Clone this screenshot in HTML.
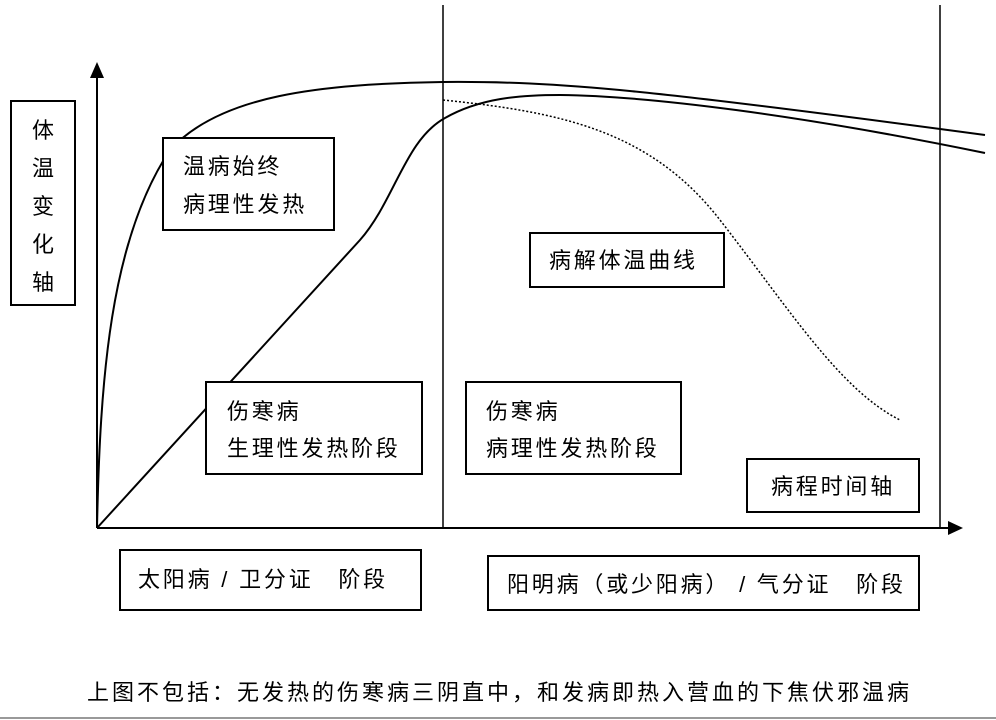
<!DOCTYPE html>
<html><head><meta charset="utf-8"><style>
body{margin:0;width:996px;height:720px;background:#fff;overflow:hidden;position:relative;font-family:"Liberation Sans","Noto Sans CJK SC",sans-serif;}
.b{position:absolute;border:2px solid #000;box-sizing:border-box;background:#fff;font-size:22px;letter-spacing:2.8px;line-height:37px;color:#000;white-space:nowrap;}
.t{position:absolute;font-size:22px;letter-spacing:3px;white-space:nowrap;}
svg{position:absolute;left:0;top:0}
</style></head><body>
<svg width="996" height="720">
<line x1="443" y1="5" x2="443" y2="528" stroke="#000" stroke-width="1.5"/>
<line x1="940" y1="5" x2="940" y2="528" stroke="#000" stroke-width="1.5"/>
<line x1="97" y1="528" x2="97" y2="75" stroke="#000" stroke-width="2"/>
<polygon points="97,62 90,78 104,78" fill="#000"/>
<line x1="97" y1="528" x2="950" y2="528" stroke="#000" stroke-width="2"/>
<polygon points="963,528 948,521 948,535" fill="#000"/>
<path d="M97,528 C100,380 110,240 170,150 C220,95 320,84 443,82 C560,81 650,90 985,135" fill="none" stroke="#000" stroke-width="2"/>
<path d="M97,528 L360,240 C395,200 405,140 445,118 C480,98 520,95 560,95 C650,96 800,115 985,153" fill="none" stroke="#000" stroke-width="2"/>
<path d="M443,100 C560,112 650,130 720,220 C790,310 840,390 900,420" fill="none" stroke="#000" stroke-width="1.5" stroke-dasharray="2,2"/>
<line x1="0" y1="718" x2="996" y2="718" stroke="#999" stroke-width="2"/>
</svg>
<div class="b" style="left:10px;top:100px;width:66px;height:206px;padding:10px 0 0 20px;line-height:38px;">体<br>温<br>变<br>化<br>轴</div>
<div class="b" style="left:162px;top:137px;width:173px;height:94px;padding:9px 0 0 19px;line-height:38px;">温病始终<br>病理性发热</div>
<div class="b" style="left:529px;top:232px;width:196px;height:56px;padding:8px 0 0 18px;">病解体温曲线</div>
<div class="b" style="left:205px;top:381px;width:218px;height:94px;padding:10px 0 0 20px;">伤寒病<br>生理性发热阶段</div>
<div class="b" style="left:465px;top:381px;width:217px;height:94px;padding:10px 0 0 19px;">伤寒病<br>病理性发热阶段</div>
<div class="b" style="left:746px;top:458px;width:174px;height:55px;padding:8px 0 0 23px;">病程时间轴</div>
<div class="b" style="left:119px;top:549px;width:303px;height:62px;padding:10px 0 0 17px;white-space:pre;">太阳病 / 卫分证　阶段</div>
<div class="b" style="left:487px;top:555px;width:433px;height:56px;padding:9px 0 0 18px;white-space:pre;">阳明病（或少阳病） / 气分证　阶段</div>
<div class="t" style="left:87px;top:675px;">上图不包括：无发热的伤寒病三阴直中，和发病即热入营血的下焦伏邪温病</div>
</body></html>
